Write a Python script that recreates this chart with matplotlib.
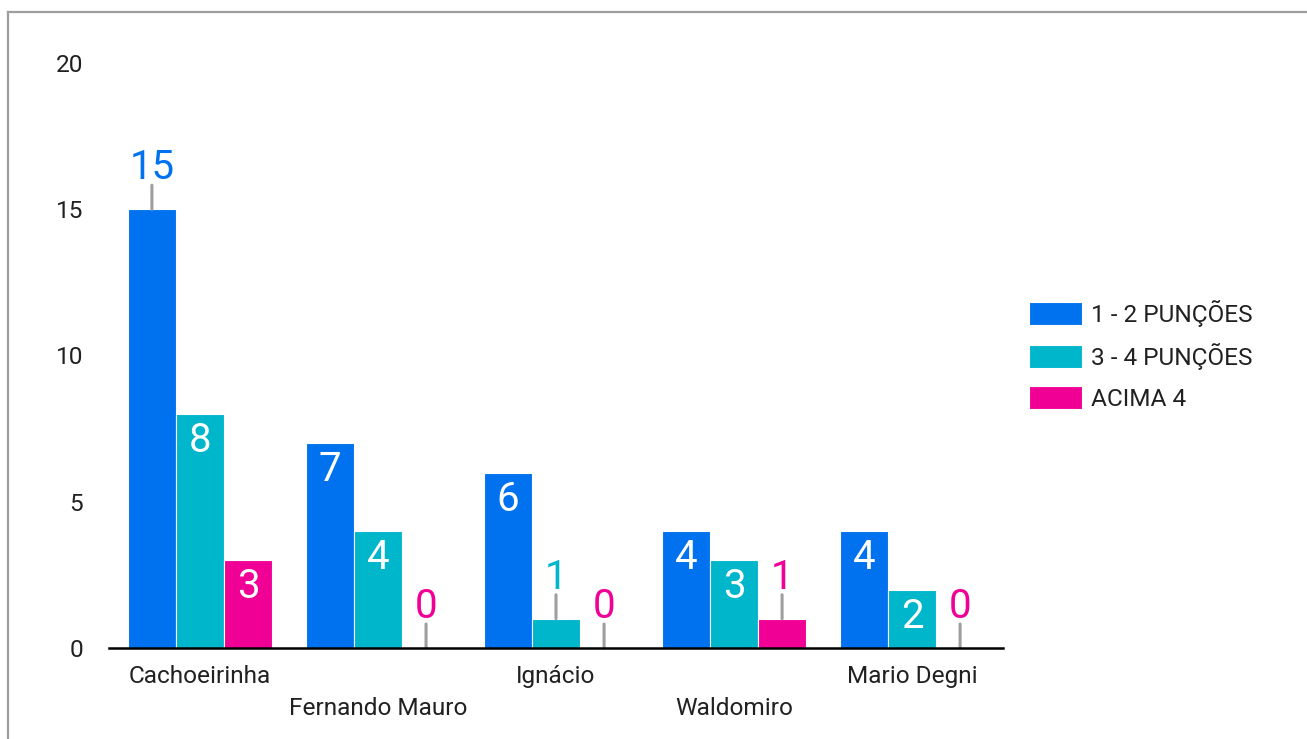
import matplotlib
matplotlib.use("Agg")
import matplotlib.pyplot as plt
import matplotlib.transforms as mtransforms
from matplotlib.lines import Line2D
import numpy as np

plt.rcParams['font.family'] = ['Roboto', 'DejaVu Sans']

categories = ["Cachoeirinha", "Fernando Mauro", "Ignácio", "Waldomiro", "Mario Degni"]
series_names = ["1 - 2 PUNÇÕES", "3 - 4 PUNÇÕES", "ACIMA 4"]
series_values = [
    [15, 7, 6, 4, 4],
    [8, 4, 1, 3, 2],
    [3, 0, 0, 1, 0],
]
# which labels are drawn above the bar with a leader line
outside = [
    [True, False, False, False, False],
    [False, False, True, False, False],
    [False, True, True, True, True],
]
colors = ["#0072F0", "#00B6CB", "#F10096"]
yticks = [0, 5, 10, 15, 20]

W, H = 1307, 739
fig = plt.figure(figsize=(W / 100, H / 100), dpi=100)
ax = fig.add_axes([109 / W, 1 - 648 / H, (1003 - 109) / W, (648 - 63) / H])

x = np.arange(len(categories))
bw = 0.27
txtc = "#212121"
fs = 17.6
for i, (name, vals, col) in enumerate(zip(series_names, series_values, colors)):
    pos = x + (i - 1) * bw
    ax.bar(pos, vals, width=bw, color=col, edgecolor="white", linewidth=0.8, label=name)
    for px, v, out in zip(pos, vals, outside[i]):
        if out:
            ax.annotate("", xy=(px, v), xytext=(0, 17.3), textcoords="offset points",
                        arrowprops=dict(arrowstyle="-", color="#9E9E9E", lw=2.2,
                                        shrinkA=0, shrinkB=0))
            ax.annotate(str(v), xy=(px, v), xytext=(0, 21.5), textcoords="offset points",
                        ha="center", va="baseline", fontsize=29, color=col)
        else:
            ax.annotate(str(v), xy=(px, v), xytext=(0, -27.4), textcoords="offset points",
                        ha="center", va="baseline", fontsize=29, color="white")

ax.set_xlim(-0.511, 4.511)
ax.set_ylim(0, 20)
ax.set_yticks(yticks)
ax.set_yticklabels([str(t) for t in yticks], fontsize=fs, color=txtc)
ax.tick_params(axis="y", length=0, pad=18.7)
ax.set_xticks([])
for s in ["top", "right", "left"]:
    ax.spines[s].set_visible(False)
ax.spines["bottom"].set_color("black")
ax.spines["bottom"].set_linewidth(1.8)
ax.spines["bottom"].set_zorder(5)

for j, cat in enumerate(categories):
    off = -25.2 if j % 2 == 0 else -48.2
    tr = ax.get_xaxis_transform() + mtransforms.ScaledTranslation(0, off / 72, fig.dpi_scale_trans)
    ax.text(x[j], 0, cat, transform=tr, ha="center", va="baseline", fontsize=fs, color=txtc)

leg = fig.legend(loc="upper left", bbox_to_anchor=(1029 / W, 1 - 300 / H), frameon=False,
                 fontsize=fs, handlelength=2.18, handleheight=1.07, handletextpad=0.37,
                 labelspacing=0.66, borderpad=0, borderaxespad=0)
for t in leg.get_texts():
    t.set_color(txtc)

# outer frame (left and top)
fig.add_artist(Line2D([8 / W, 8 / W], [0, 1 - 12 / H], color="#9E9E9E", lw=1.6,
                      transform=fig.transFigure))
fig.add_artist(Line2D([8 / W, 1], [1 - 12 / H, 1 - 12 / H], color="#9E9E9E", lw=1.6,
                      transform=fig.transFigure))

fig.savefig("out.png", dpi=100, facecolor="white")
